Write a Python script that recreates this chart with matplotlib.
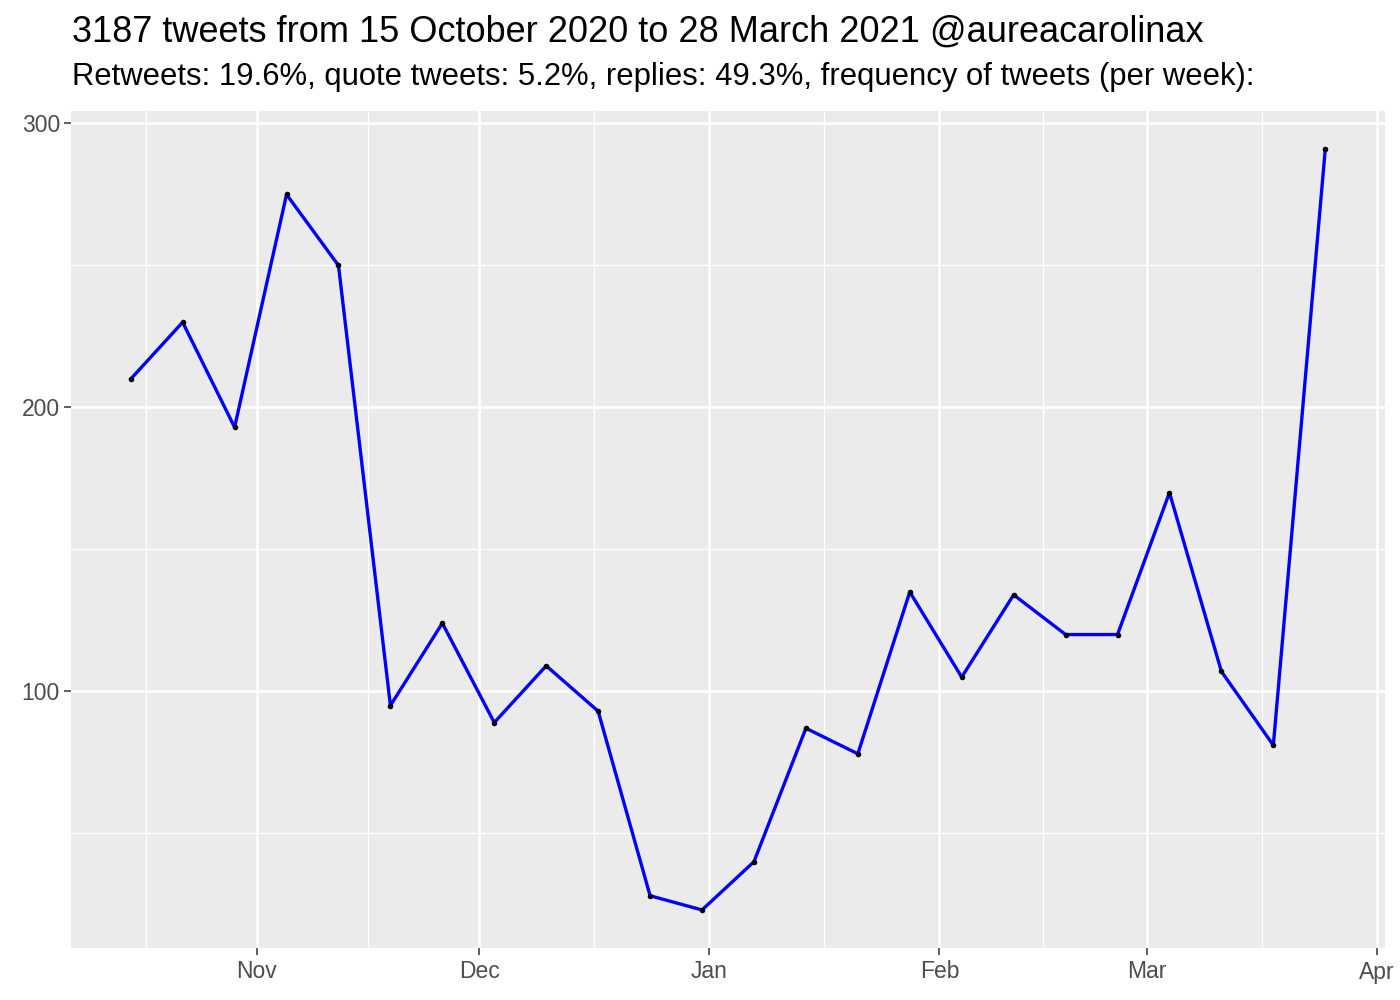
import matplotlib
matplotlib.use("Agg")
import matplotlib.pyplot as plt
import matplotlib.dates as mdates
import numpy as np
import datetime as dt

start_date = "2020-10-15"
n_weeks = 24
tweets_per_week = [210, 230, 193, 275, 250, 95, 124, 89, 109, 93, 28, 23,
                   40, 87, 78, 135, 105, 134, 120, 120, 170, 107, 81, 291]
y_ticks = [100, 200, 300]
y_minor = [50, 150, 250]
month_ticks = ["2020-11-01", "2020-12-01", "2021-01-01", "2021-02-01", "2021-03-01", "2021-04-01"]
month_labels = ["Nov", "Dec", "Jan", "Feb", "Mar", "Apr"]
title = "3187 tweets from 15 October 2020 to 28 March 2021 @aureacarolinax"
subtitle = "Retweets: 19.6%, quote tweets: 5.2%, replies: 49.3%, frequency of tweets (per week):"

plt.rcParams['font.family'] = ['Liberation Sans', 'DejaVu Sans']

d0 = dt.date.fromisoformat(start_date)
dates = [d0 + dt.timedelta(weeks=i) for i in range(n_weeks)]
xnum = mdates.date2num(dates)

fig = plt.figure(figsize=(14, 10), dpi=100)
ax = fig.add_axes([71/1400, 52/1000, (1385-71)/1400, (948-111)/1000])
ax.set_facecolor('#EBEBEB')

# limits with 5% expansion
xr = xnum[-1] - xnum[0]
ax.set_xlim(xnum[0] - 0.05*xr, xnum[-1] + 0.05*xr)
yr = max(tweets_per_week) - min(tweets_per_week)
ax.set_ylim(min(tweets_per_week) - 0.05*yr, max(tweets_per_week) + 0.05*yr)

mt = mdates.date2num([dt.date.fromisoformat(m) for m in month_ticks])
minor_x = list((mt[:-1] + mt[1:]) / 2)
minor_x = [mt[0] - (mt[1]-mt[0])/2] + minor_x

for v in minor_x:
    ax.axvline(v, color='white', lw=0.9, zorder=0.5)
for v in y_minor:
    ax.axhline(v, color='white', lw=0.9, zorder=0.5)
for v in mt:
    ax.axvline(v, color='white', lw=1.9, zorder=0.6)
for v in y_ticks:
    ax.axhline(v, color='white', lw=1.9, zorder=0.6)

ax.plot(xnum, tweets_per_week, color='#0000FF', lw=2.4, zorder=2)
ax.scatter(xnum, tweets_per_week, s=16, color='black', zorder=3, linewidths=0)

ax.set_xticks(mt)
ax.set_xticklabels(month_labels)
ax.set_yticks(y_ticks)
ax.tick_params(axis='both', length=5, width=1.1, color='#333333', labelcolor='#4D4D4D',
               labelsize=16.5)
ax.tick_params(axis='x', pad=4)
ax.tick_params(axis='y', pad=3)
for s in ax.spines.values():
    s.set_visible(False)

fig.text(72/1400, 1 - 32/1000, title, fontsize=26, color='black', va='center', ha='left')
fig.text(72/1400, 1 - 77/1000, subtitle, fontsize=22.3, color='black', va='center', ha='left')

fig.savefig("out.png", dpi=100)
